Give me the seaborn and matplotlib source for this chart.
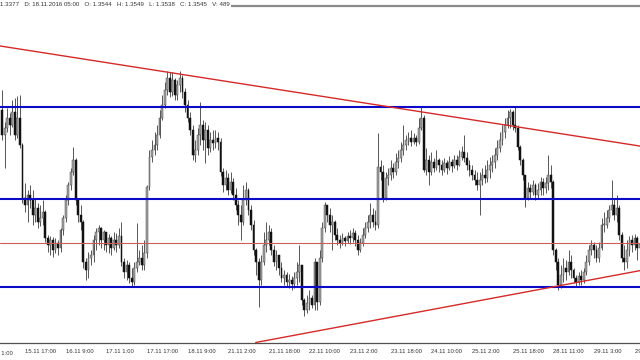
import matplotlib
matplotlib.use("Agg")
import matplotlib.pyplot as plt
import matplotlib.font_manager as fm
import numpy as np
import pandas as pd
import seaborn as sns

# ---------------- data (prices expressed in pips above 1.3000) ----------------
BASE = 1.3000
PIP = 0.0001
first_open = 490

close_pips = [
    465, 472, 482, 475, 488, 465, 482, 455, 402, 395, 405, 400,
    385, 392, 378, 382, 388, 362, 355, 360, 350, 357, 352, 370,
    382, 400, 415, 428, 440, 400, 385, 378, 338, 330, 342, 345,
    360, 368, 372, 360, 368, 355, 362, 352, 360, 355, 364, 338,
    328, 335, 322, 318, 332, 338, 342, 335, 347, 413, 443, 450,
    455, 465, 482, 495, 510, 522, 508, 520, 505, 515, 522, 508,
    495, 482, 470, 445, 450, 465, 475, 460, 470, 452, 460, 457,
    462, 458, 428, 415, 422, 410, 418, 405, 395, 385, 378, 400,
    410, 390, 375, 350, 338, 320, 338, 355, 360, 368, 350, 338,
    345, 332, 322, 325, 318, 320, 316, 322, 328, 335, 300, 290,
    297, 302, 295, 338, 298, 342, 372, 395, 385, 375, 378, 365,
    360, 357, 362, 359, 364, 362, 367, 360, 350, 357, 365, 372,
    378, 385, 378, 375, 433, 428, 402, 422, 425, 432, 428, 438,
    442, 450, 455, 460, 462, 458, 462, 458, 472, 482, 430, 440,
    428, 438, 432, 440, 435, 430, 437, 432, 438, 434, 440, 435,
    443, 448, 442, 435, 430, 425, 420, 415, 420, 425, 422, 430,
    435, 438, 445, 452, 460, 468, 475, 482, 488, 475, 472, 453,
    440, 425, 402, 412, 408, 415, 405, 410, 418, 412, 417, 425,
    418, 350, 338, 315, 325, 332, 328, 338, 330, 322, 318, 324,
    320, 328, 338, 350, 355, 350, 342, 352, 375, 375, 382, 390,
    395, 385, 392, 365, 342, 338, 350, 360, 355, 362, 352, 356,
]

high_pips = [
    510, 478, 492, 487, 500, 502, 504, 505, 457, 417, 410, 415,
    410, 402, 397, 395, 400, 390, 365, 364, 363, 362, 360, 372,
    385, 405, 418, 432, 453, 442, 402, 395, 380, 342, 348, 350,
    365, 372, 375, 373, 370, 368, 366, 364, 368, 367, 372, 378,
    342, 340, 338, 332, 338, 377, 350, 355, 360, 415, 450, 460,
    468, 475, 490, 505, 518, 529, 528, 528, 522, 520, 529, 525,
    512, 500, 488, 475, 460, 472, 498, 480, 478, 475, 468, 470,
    470, 468, 462, 432, 430, 427, 428, 422, 412, 400, 395, 415,
    418, 412, 395, 380, 352, 342, 345, 368, 378, 375, 372, 355,
    350, 345, 338, 330, 328, 326, 324, 328, 338, 355, 335, 302,
    305, 310, 305, 342, 338, 350, 378, 398, 395, 392, 385, 380,
    372, 365, 367, 364, 368, 370, 372, 370, 365, 362, 372, 378,
    385, 397, 392, 390, 467, 440, 435, 428, 432, 440, 437, 447,
    450, 458, 475, 465, 468, 470, 467, 465, 482, 494, 485, 452,
    445, 448, 442, 450, 442, 440, 442, 440, 444, 441, 445, 445,
    450, 454, 465, 448, 440, 435, 430, 428, 428, 432, 435, 440,
    443, 445, 452, 460, 468, 475, 482, 490, 491, 490, 494, 475,
    455, 442, 425, 418, 416, 420, 417, 417, 423, 422, 423, 445,
    435, 420, 352, 342, 335, 342, 340, 350, 345, 332, 325, 328,
    330, 332, 345, 355, 360, 358, 355, 358, 382, 388, 390, 395,
    420, 402, 405, 395, 368, 355, 360, 364, 365, 366, 364, 360,
]

low_pips = [
    460, 432, 468, 465, 473, 460, 462, 452, 397, 388, 378, 392,
    375, 378, 372, 374, 375, 358, 348, 345, 343, 347, 345, 348,
    365, 378, 395, 410, 425, 395, 378, 370, 332, 320, 322, 335,
    338, 350, 355, 352, 350, 348, 347, 345, 350, 348, 352, 334,
    322, 320, 317, 314, 315, 328, 335, 330, 330, 342, 410, 438,
    445, 450, 462, 480, 492, 505, 503, 504, 500, 500, 508, 502,
    488, 478, 465, 440, 438, 445, 455, 450, 437, 445, 448, 450,
    452, 450, 424, 408, 410, 405, 407, 400, 390, 375, 360, 375,
    395, 385, 370, 345, 325, 293, 315, 335, 348, 355, 345, 334,
    330, 325, 318, 315, 313, 312, 310, 312, 315, 318, 295, 284,
    287, 290, 292, 290, 290, 295, 338, 368, 378, 368, 350, 360,
    355, 352, 355, 354, 357, 356, 358, 354, 345, 348, 354, 362,
    368, 372, 373, 370, 372, 420, 398, 400, 415, 420, 422, 425,
    432, 438, 445, 450, 455, 454, 456, 454, 456, 470, 428, 425,
    415, 425, 428, 430, 428, 425, 428, 426, 430, 428, 432, 430,
    434, 440, 438, 430, 424, 420, 415, 410, 385, 415, 417, 418,
    422, 428, 432, 440, 448, 455, 462, 472, 472, 470, 468, 450,
    435, 420, 393, 400, 402, 405, 400, 402, 405, 405, 407, 410,
    412, 345, 330, 310, 312, 318, 320, 325, 322, 317, 313, 315,
    315, 317, 325, 335, 345, 342, 338, 338, 350, 368, 372, 378,
    385, 380, 378, 360, 338, 330, 332, 344, 348, 350, 340, 348,
]

tick_bars = [9, 25, 41, 57, 73, 89, 105, 121, 137, 153, 169, 185, 201, 217, 233, 249]
tick_labels = ["15.11 17:00", "16.11 9:00", "17.11 1:00", "17.11 17:00", "18.11 9:00",
               "21.11 2:00", "21.11 18:00", "22.11 10:00", "23.11 2:00", "23.11 18:00",
               "24.11 10:00", "25.11 2:00", "25.11 18:00", "28.11 11:00", "29.11 3:00",
               "29.11 19:00"]
cut_label = "15.11 1:00"

blue_levels = [493, 401, 313]
red_levels = [357]
upper_tl_bars = [0, 251]
upper_tl_pips = [553.7, 454.0]
lower_tl_bars = [167, 251]
lower_tl_pips = [289.4, 329.3]

header = "1.3377   D: 18.11.2016 05:00   O: 1.3544   H: 1.3549   L: 1.3538   C: 1.3545   V: 489"

# ---------------- build table ----------------
n = len(close_pips)
assert len(high_pips) == n and len(low_pips) == n, (len(close_pips), len(high_pips), len(low_pips))
to_price = lambda p: BASE + np.asarray(p, dtype=float) * PIP
close = to_price(close_pips)
openp = to_price([first_open] + close_pips[:-1])
high = to_price(high_pips)
low = to_price(low_pips)
df = pd.DataFrame({"bar": np.arange(n), "open": openp, "high": high, "low": low, "close": close})
df["bull"] = df["close"] >= df["open"]
df["body_lo"] = df[["open", "close"]].min(axis=1)
df["body_h"] = (df["close"] - df["open"]).abs().clip(lower=0.6 * PIP)
df["wick_hi"] = df[["high", "open", "close"]].max(axis=1)
df["wick_lo"] = df[["low", "open", "close"]].min(axis=1)

# ---------------- style ----------------
sns.set_theme(style="white")
names = {f.name for f in fm.fontManager.ttflist}
font = "Liberation Sans Narrow" if "Liberation Sans Narrow" in names else "Liberation Sans"
plt.rcParams["font.family"] = [font, "DejaVu Sans"]

W, H = 640, 360
fig = plt.figure(figsize=(6.4, 3.6), dpi=100)
fig.patch.set_facecolor("white")
top_px, bot_px = 6.0, 342.5
ax = fig.add_axes([0, 1 - bot_px / H, 1, (bot_px - top_px) / H])
ax.set_facecolor("white")

# wicks
ax.vlines(df["bar"], df["wick_lo"], df["wick_hi"], color="#3c3c3c", lw=0.6, zorder=2)
# bodies
bull = df[df["bull"]]
bear = df[~df["bull"]]
ax.bar(bull["bar"], bull["body_h"], bottom=bull["body_lo"], width=0.72,
       color="#a4a4a4", edgecolor="#4a4a4a", linewidth=0.35, zorder=3)
ax.bar(bear["bar"], bear["body_h"], bottom=bear["body_lo"], width=0.72,
       color="#111111", edgecolor="#111111", linewidth=0.35, zorder=3)

# horizontal levels
for lv in blue_levels:
    ax.axhline(BASE + lv * PIP, color="#0a0ac8", lw=1.5, zorder=5)
for lv in red_levels:
    ax.axhline(BASE + lv * PIP, color="#cc5c5c", lw=0.8, zorder=5)

# trend lines
ax.axline((upper_tl_bars[0], BASE + upper_tl_pips[0] * PIP),
          (upper_tl_bars[1], BASE + upper_tl_pips[1] * PIP), color="#d42a2a", lw=1.0, zorder=6)
ax.axline((lower_tl_bars[0], BASE + lower_tl_pips[0] * PIP),
          (lower_tl_bars[1], BASE + lower_tl_pips[1] * PIP), color="#d42a2a", lw=1.0, zorder=6)

# axes limits: map pixel rows to prices
ax.set_xlim(-0.83, 251.15)
ax.set_ylim(BASE + (600 - bot_px) * PIP, BASE + (600 - top_px) * PIP)

# spines
sns.despine(ax=ax, left=True, right=True, top=False, bottom=False)
ax.spines["bottom"].set_color("#505050")
ax.spines["bottom"].set_linewidth(0.9)
ax.spines["top"].set_color("#8a8a8a")
ax.spines["top"].set_linewidth(1.6)

ax.set_yticks([])
ax.set_xticks(tick_bars)
ax.set_xticklabels(tick_labels, fontsize=4.2, color="#333333", ha="left")
ax.tick_params(axis="x", length=0, pad=5)

# partially visible label at the left edge
fig.text(12.5 / W, 1 - 353.5 / H, cut_label, fontsize=4.2, color="#333333",
         ha="right", va="center")

# header (data window line)
fig.text(0.5 / W, 1 - 4.5 / H, header, fontsize=4.4, color="#333333", ha="left", va="center",
         bbox=dict(facecolor="white", edgecolor="none", pad=0.6), zorder=10)

fig.savefig("out.png", dpi=100, facecolor="white")
